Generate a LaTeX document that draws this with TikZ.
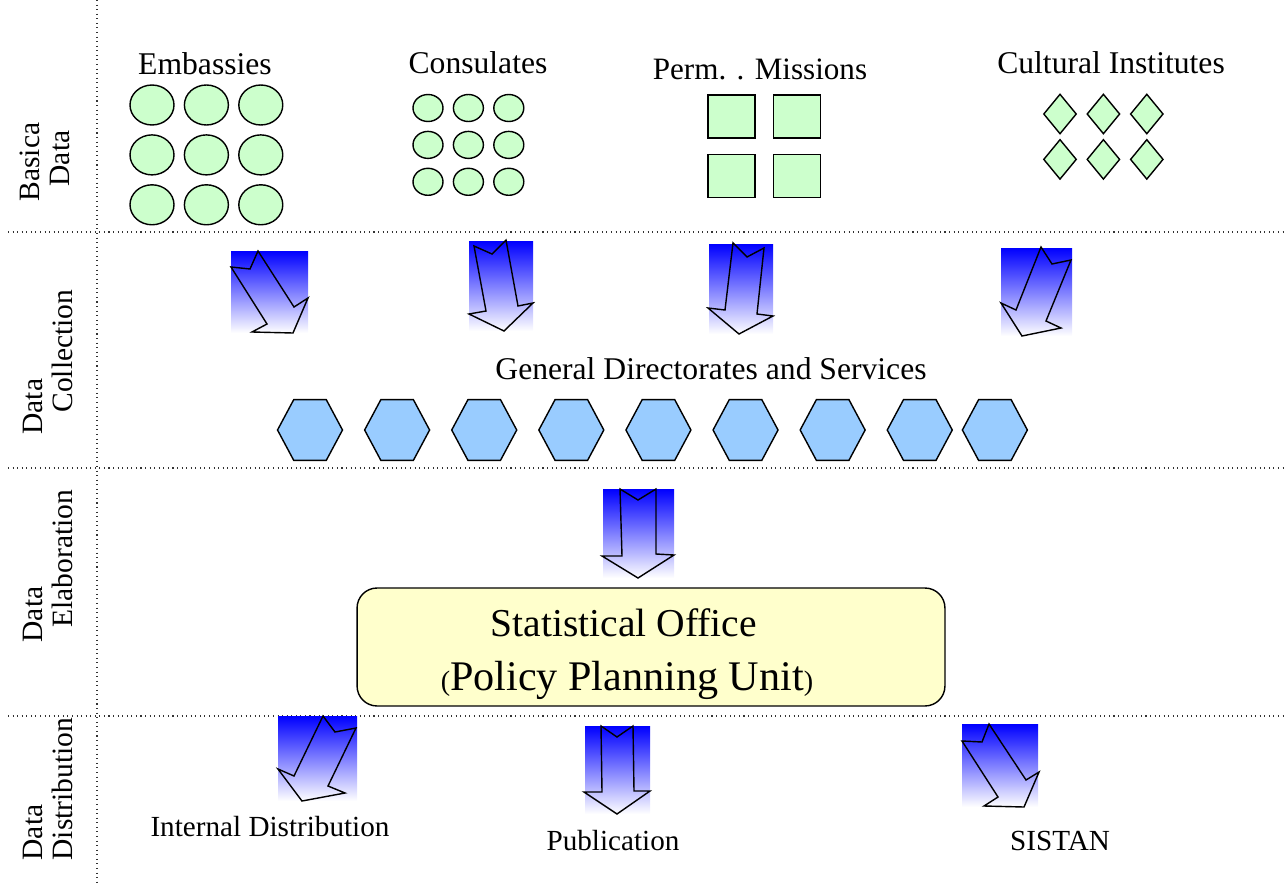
\documentclass[tikz,border=0pt]{standalone}
\usepackage{fontspec}
\setmainfont{Liberation Serif}
\usetikzlibrary{shapes.geometric, positioning}

\definecolor{softgreen}{RGB}{204,255,204}
\definecolor{hexblue}{RGB}{153,204,255}
\definecolor{officeyellow}{RGB}{255,255,204}

\begin{document}
\begin{tikzpicture}[x=0.02cm, y=-0.02cm,
    sep/.style={dotted, line width=0.6pt, black!80},
    rowlabel/.style={rotate=90, align=left, inner sep=0pt,
        font=\fontsize{16.8}{17}\selectfont},
    title/.style={anchor=base, inner sep=0pt, font=\fontsize{18}{20}\selectfont},
    caption/.style={anchor=base, inner sep=0pt, font=\fontsize{16.6}{18}\selectfont},
    unit/.style={draw, line width=0.8pt, fill=softgreen, inner sep=0pt},
    embassy/.style={unit, ellipse, minimum width=0.88cm, minimum height=0.80cm},
    consulate/.style={unit, ellipse, minimum width=0.60cm, minimum height=0.54cm},
    mission/.style={unit, rectangle, minimum width=0.94cm, minimum height=0.86cm},
    institute/.style={unit, diamond, minimum width=0.66cm, minimum height=0.80cm},
    service/.style={draw, line width=0.8pt, fill=hexblue, inner sep=0pt,
        regular polygon, regular polygon sides=6, minimum size=1.3cm,
        yscale=1.08, transform shape},
    fade/.style={top color=blue, bottom color=white},
    blockarrow/.style={draw, line width=0.8pt, line join=miter}]

    \useasboundingbox (0,0) rectangle (1287,882);

    % -------------------------------------------------------------
    % Grid of the four layers
    % -------------------------------------------------------------
    \draw[sep] (97,0) -- (97,882);
    \draw[sep] (8,232) -- (1287,232);
    \draw[sep] (8,468) -- (1287,468);
    \draw[sep] (8,716) -- (1287,716);

    \node[rowlabel] (basic) at (45,162) {Basica\\\hspace*{0.3cm}Data};
    \node[rowlabel] (collect) at (48,362) {Data\\\hspace*{0.44cm}Collection};
    \node[rowlabel] (elab) at (48,566) {Data\\\hspace*{0.3cm}Elaboration};
    \node[rowlabel] (distrib) at (48,789) {Data\\Distribution};

    % -------------------------------------------------------------
    % Basic data: the offices abroad
    % -------------------------------------------------------------
    \node[title] (embassies) at (205,74) {Embassies};
    \node[embassy] (E11) at (152,105) {};
    \node[embassy] (E12) [right=0.18cm of E11] {};
    \node[embassy] (E13) [right=0.18cm of E12] {};
    \node[embassy] (E21) [below=0.17cm of E11] {};
    \node[embassy] (E22) [right=0.18cm of E21] {};
    \node[embassy] (E23) [right=0.18cm of E22] {};
    \node[embassy] (E31) [below=0.17cm of E21] {};
    \node[embassy] (E32) [right=0.18cm of E31] {};
    \node[embassy] (E33) [right=0.18cm of E32] {};

    \node[title] (consulates) at (478,73) {Consulates};
    \node[consulate] (C11) at (428,108) {};
    \node[consulate] (C12) [right=0.18cm of C11] {};
    \node[consulate] (C13) [right=0.18cm of C12] {};
    \node[consulate] (C21) [below=0.17cm of C11] {};
    \node[consulate] (C22) [right=0.18cm of C21] {};
    \node[consulate] (C23) [right=0.18cm of C22] {};
    \node[consulate] (C31) [below=0.17cm of C21] {};
    \node[consulate] (C32) [right=0.18cm of C31] {};
    \node[consulate] (C33) [right=0.18cm of C32] {};

    \node[title, font=\fontsize{17.7}{20}\selectfont] (missions) at (760,80) {Perm. . Missions};
    \node[mission] (M11) at (731.5,116.5) {};
    \node[mission] (M12) [right=0.34cm of M11] {};
    \node[mission] (M21) [below=0.30cm of M11] {};
    \node[mission] (M22) [right=0.34cm of M21] {};

    \node[title] (institutes) at (1111,73) {Cultural Institutes};
    \node[institute] (I11) at (1060,114) {};
    \node[institute] (I12) [right=0.18cm of I11] {};
    \node[institute] (I13) [right=0.18cm of I12] {};
    \node[institute] (I21) [below=0.08cm of I11] {};
    \node[institute] (I22) [right=0.18cm of I21] {};
    \node[institute] (I23) [right=0.18cm of I22] {};

    % -------------------------------------------------------------
    % Data collection by the General Directorates
    % -------------------------------------------------------------
    \shade[fade] (231,251) rectangle (308,333);
    \draw[blockarrow] (231,267) -- (250,269) -- (258,251) -- (294,307)
        -- (308,298) -- (293,333) -- (252,332) -- (267,324) -- cycle;

    \shade[fade] (469,241) rectangle (533,331);
    \draw[blockarrow] (474,246) -- (492,254) -- (506,240) -- (518,306)
        -- (533,303) -- (504,331) -- (469,314) -- (486,311) -- cycle;

    \shade[fade] (709,244) rectangle (773,334);
    \draw[blockarrow] (733,243) -- (747,257) -- (764,248) -- (757,314)
        -- (773,316) -- (739,334) -- (708,308) -- (725,310) -- cycle;

    \shade[fade] (1001,248) rectangle (1072,336);
    \draw[blockarrow] (1041,247) -- (1052,264) -- (1071,260) -- (1046,321)
        -- (1061,328) -- (1022,336) -- (1001,303) -- (1016,310) -- cycle;

    \node[title] (directorates) at (711,379) {General Directorates and Services};
    \node[service] (H1) at (310,430) {};
    \node[service] (H2) [right=0.41cm of H1] {};
    \node[service] (H3) [right=0.41cm of H2] {};
    \node[service] (H4) [right=0.41cm of H3] {};
    \node[service] (H5) [right=0.41cm of H4] {};
    \node[service] (H6) [right=0.41cm of H5] {};
    \node[service] (H7) [right=0.41cm of H6] {};
    \node[service] (H8) [right=0.41cm of H7] {};
    \node[service] (H9) [right=0.17cm of H8] {};

    % -------------------------------------------------------------
    % Elaboration at the Statistical Office
    % -------------------------------------------------------------
    \shade[fade] (603,489) rectangle (674,578);
    \draw[blockarrow] (620,489) -- (638,500) -- (656,489) -- (656,554)
        -- (674,555) -- (638,578) -- (602,556) -- (622,556) -- cycle;

    \node[draw, line width=0.8pt, fill=officeyellow, rounded corners=0.4cm,
        minimum width=11.76cm, minimum height=2.36cm] (office) at (651,647) {};
    \node[anchor=base, inner sep=0pt, font=\fontsize{22.5}{24}\selectfont]
        (officename) at (624,636) {Statistical Office};
    \node[anchor=base, inner sep=0pt, font=\fontsize{24}{26}\selectfont]
        (officeunit) at (627,690)
        {{\fontsize{16}{16}\selectfont(}Policy Planning Unit{\fontsize{16}{16}\selectfont)}};

    % -------------------------------------------------------------
    % Distribution of the results
    % -------------------------------------------------------------
    \shade[fade] (278,716) rectangle (357,801);
    \draw[blockarrow] (323,716) -- (335,732) -- (356,728) -- (328,786)
        -- (345,793) -- (302,801) -- (278,769) -- (294,776) -- cycle;
    \node[caption] (internal) at (270,836) {Internal Distribution};

    \shade[fade] (585,726) rectangle (650,814);
    \draw[blockarrow] (601,726) -- (617,737) -- (633,726) -- (634,791)
        -- (650,791) -- (617,814) -- (584,792) -- (602,792) -- cycle;
    \node[caption] (publication) at (613,850) {Publication};

    \shade[fade] (962,724) rectangle (1038,807);
    \draw[blockarrow] (962,741) -- (982,742) -- (989,724) -- (1026,780)
        -- (1039,772) -- (1024,807) -- (984,806) -- (998,797) -- cycle;
    \node[caption] (sistan) at (1060,850) {SISTAN};

\end{tikzpicture}
\end{document}
